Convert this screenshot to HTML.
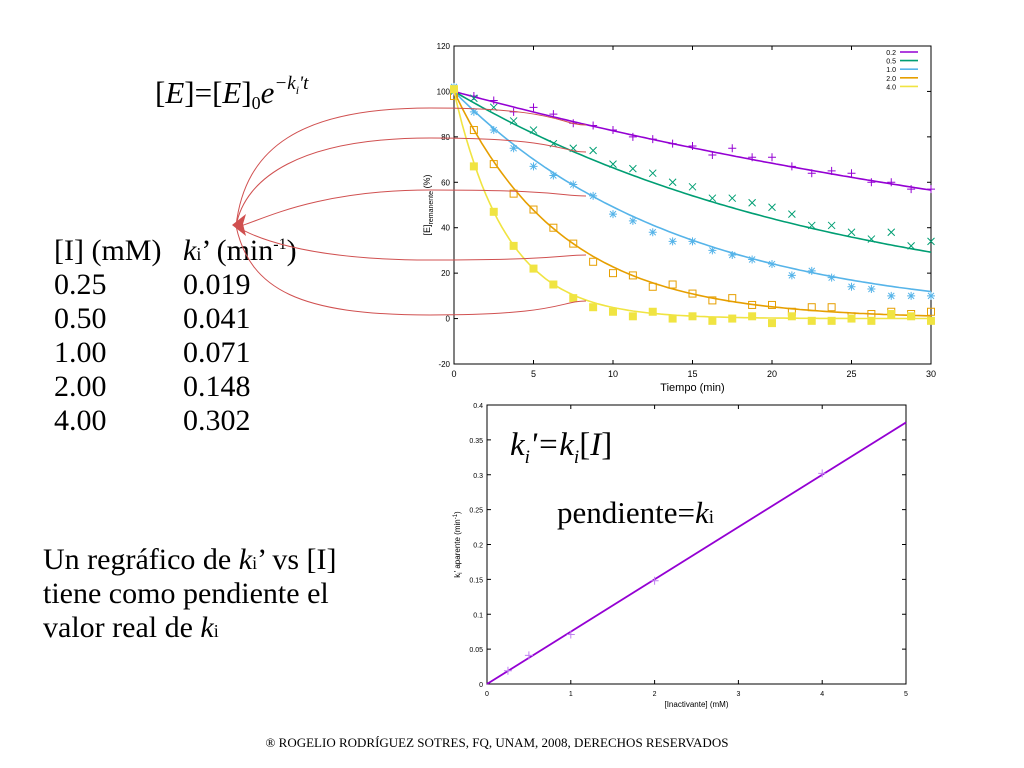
<!DOCTYPE html>
<html><head><meta charset="utf-8"><style>
body{margin:0;background:#fff;}
svg{display:block;font-family:"Liberation Sans",sans-serif;}
.serif{font-family:"Liberation Serif",serif;}
</style></head><body>
<svg width="1024" height="768" viewBox="0 0 1024 768">
<g class="serif" fill="#000">
<text x="155" y="103" font-size="31" font-style="italic"><tspan font-style="normal">[</tspan>E<tspan font-style="normal">]=[</tspan>E<tspan font-style="normal">]</tspan><tspan font-size="18" font-style="normal" dy="6">0</tspan><tspan dy="-6">e</tspan><tspan font-size="19" dy="-14">−k</tspan><tspan font-size="12" dy="5">i</tspan><tspan font-size="19" dy="-5">'t</tspan></text>
</g>
<g class="serif" font-size="30" fill="#000">
<text x="54" y="260">[I] (mM)</text><text x="183" y="260"><tspan font-style="italic">k</tspan><tspan font-size="18">i</tspan>’ (min<tspan font-size="16" dy="-11">-1</tspan><tspan dy="11">)</tspan></text>
<text x="54" y="294">0.25</text><text x="183" y="294">0.019</text>
<text x="54" y="328">0.50</text><text x="183" y="328">0.041</text>
<text x="54" y="362">1.00</text><text x="183" y="362">0.071</text>
<text x="54" y="396">2.00</text><text x="183" y="396">0.148</text>
<text x="54" y="430">4.00</text><text x="183" y="430">0.302</text>
</g>
<g class="serif" font-size="30" fill="#000">
<text x="43" y="569">Un regráfico de <tspan font-style="italic">k</tspan><tspan font-size="18">i</tspan>’ vs [I]</text>
<text x="43" y="603">tiene como pendiente el</text>
<text x="43" y="637">valor real de <tspan font-style="italic">k</tspan><tspan font-size="18">i</tspan></text>
</g>
<text class="serif" x="497" y="747" font-size="13" text-anchor="middle">® ROGELIO RODRÍGUEZ SOTRES, FQ, UNAM, 2008, DERECHOS RESERVADOS</text>
<g id="top"></g>
<g id="bot"></g>
<g id="arcs"></g>
</svg>
<script>
const times=[0,1.25,2.5,3.75,5,6.25,7.5,8.75,10,11.25,12.5,13.75,15,16.25,17.5,18.75,20,21.25,22.5,23.75,25,26.25,27.5,28.75,30];
const seriesNames=["0.2","0.5","1.0","2.0","4.0"];
const seriesK=[0.019,0.041,0.071,0.148,0.302];
const s02=[100,98,96,91,93,90,86,85,83,80,79,77,76,72,75,71,71,67,64,65,64,60,60,57,57];
const s05=[100,97,93,87,83,77,75,74,68,66,64,60,58,53,53,51,49,46,41,41,38,35,38,32,34];
const s10=[102,91,83,75,67,63,59,54,46,43,38,34,34,30,28,26,24,19,21,18,14,13,10,10,10];
const s20=[98,83,68,55,48,40,33,25,20,19,14,15,11,8,9,6,6,3,5,5,1,2,3,2,3];
const s40=[101,67,47,32,22,15,9,5,3,1,3,0,1,-1,0,1,-2,1,-1,-1,0,-1,2,1,-1];
const xTicks=[0,5,10,15,20,25,30];
const yTicks=[-20,0,20,40,60,80,100,120];
const conc=[0.25,0.5,1,2,4];
const kprime=[0.019,0.041,0.071,0.148,0.302];
const slope=0.075;
const bxTicks=[0,1,2,3,4,5];
const byTicks=[0,0.05,0.1,0.15,0.2,0.25,0.3,0.35,0.4];
const NS="http://www.w3.org/2000/svg";
function mk(p,t,a){const e=document.createElementNS(NS,t);for(const k in a)e.setAttribute(k,a[k]);p.appendChild(e);return e;}
const colors=["#9400d3","#009e73","#56b4e9","#e69f00","#f0e442"];
const T=document.getElementById('top');
const X=t=>454+t*(931-454)/30, Y=v=>364-(v+20)*(364-46)/140;
let fr=mk(T,'rect',{x:X(0),y:Y(120),width:X(30)-X(0),height:Y(-20)-Y(120),fill:'none',stroke:'#000','stroke-width':1});

xTicks.forEach(t=>{mk(T,'line',{x1:X(t),x2:X(t),y1:Y(-20),y2:Y(-20)-4,stroke:'#000'});mk(T,'line',{x1:X(t),x2:X(t),y1:Y(120),y2:Y(120)+4,stroke:'#000'});
 const l=mk(T,'text',{x:X(t),y:Y(-20)+13,'font-size':9,'text-anchor':'middle'});l.textContent=t;
 });
yTicks.forEach(v=>{mk(T,'line',{x1:X(0),x2:X(0)+4,y1:Y(v),y2:Y(v),stroke:'#000'});mk(T,'line',{x1:X(30),x2:X(30)-4,y1:Y(v),y2:Y(v),stroke:'#000'});
 const l=mk(T,'text',{x:X(0)-4,y:Y(v)+3,'font-size':8,'text-anchor':'end'});l.textContent=v;
 });
let xt=mk(T,'text',{x:(X(0)+X(30))/2,y:Y(-20)+27,'font-size':11,'text-anchor':'middle'});xt.textContent='Tiempo (min)';

let yt=mk(T,'text',{x:0,y:0,'font-size':9,'text-anchor':'middle',transform:`translate(430,${Y(50)}) rotate(-90)`});
yt.innerHTML='[E]<tspan font-size="7" dy="3">remanente</tspan><tspan dy="-3"> (%)</tspan>';

const allS=[s02,s05,s10,s20,s40];
allS.forEach((s,i)=>{
 const c=colors[i];let d='';
 for(let t=0;t<=30;t+=0.25){d+=(t?'L':'M')+X(t).toFixed(1)+','+Y(100*Math.exp(-seriesK[i]*t)).toFixed(1);}
 const p=mk(T,'path',{d:d,fill:'none',stroke:c,'stroke-width':1.6});
 
 s.forEach((v,j)=>{const x=X(times[j]),y=Y(v);let g=mk(T,'g',{stroke:c,fill:'none','stroke-width':1});
  
  if(i==0){mk(g,'path',{d:`M${x-4},${y}H${x+4}M${x},${y-4}V${y+4}`});}
  else if(i==1){mk(g,'path',{d:`M${x-3.5},${y-3.5}L${x+3.5},${y+3.5}M${x-3.5},${y+3.5}L${x+3.5},${y-3.5}`});}
  else if(i==2){mk(g,'path',{d:`M${x-4},${y}H${x+4}M${x},${y-4}V${y+4}M${x-3},${y-3}L${x+3},${y+3}M${x-3},${y+3}L${x+3},${y-3}`});}
  else if(i==3){mk(g,'rect',{x:x-3.5,y:y-3.5,width:7,height:7});}
  else {mk(g,'rect',{x:x-3.5,y:y-3.5,width:7,height:7,fill:c});}
 });
 const ly=52+i*8.6;
 const lt=mk(T,'text',{x:896,y:ly+3,'font-size':7,'text-anchor':'end'});lt.textContent=seriesNames[i];
 
 const ll=mk(T,'line',{x1:900,x2:918,y1:ly,y2:ly,stroke:c,'stroke-width':1.6});
 
});
const B=document.getElementById('bot');
const BX=v=>487+v*(906-487)/5, BY=v=>684-v*(684-405)/0.4;
let bf=mk(B,'rect',{x:BX(0),y:BY(0.4),width:BX(5)-BX(0),height:BY(0)-BY(0.4),fill:'none',stroke:'#000','stroke-width':1});

bxTicks.forEach(t=>{mk(B,'line',{x1:BX(t),x2:BX(t),y1:BY(0),y2:BY(0)-4,stroke:'#000'});mk(B,'line',{x1:BX(t),x2:BX(t),y1:BY(0.4),y2:BY(0.4)+4,stroke:'#000'});
 const l=mk(B,'text',{x:BX(t),y:BY(0)+12,'font-size':7,'text-anchor':'middle'});l.textContent=t;
 });
byTicks.forEach(v=>{mk(B,'line',{x1:BX(0),x2:BX(0)+4,y1:BY(v),y2:BY(v),stroke:'#000'});mk(B,'line',{x1:BX(5),x2:BX(5)-4,y1:BY(v),y2:BY(v),stroke:'#000'});
 const l=mk(B,'text',{x:BX(0)-4,y:BY(v)+3,'font-size':7,'text-anchor':'end'});l.textContent=+v.toFixed(2);
 });
let bxt=mk(B,'text',{x:(BX(0)+BX(5))/2,y:BY(0)+23,'font-size':8,'text-anchor':'middle'});bxt.textContent='[Inactivante] (mM)';

let byt=mk(B,'text',{x:0,y:0,'font-size':8,'text-anchor':'middle',transform:`translate(460,${BY(0.2)}) rotate(-90)`});
byt.innerHTML='k<tspan font-size="6" dy="2">i</tspan><tspan dy="-2">\' aparente (min</tspan><tspan font-size="6" dy="-3">-1</tspan><tspan dy="3">)</tspan>';

let fl=mk(B,'line',{x1:BX(0),y1:BY(0),x2:BX(5),y2:BY(slope*5),stroke:'#9400d3','stroke-width':1.8});

conc.forEach((c,j)=>{const x=BX(c),y=BY(kprime[j]);const p=mk(B,'path',{d:`M${x-4},${y}H${x+4}M${x},${y-4}V${y+4}`,stroke:'#c080f0','stroke-width':1});
 });
let eq=mk(B,'text',{x:510,y:455,'font-size':33,'font-style':'italic','font-family':'Liberation Serif,serif'});
eq.innerHTML='k<tspan font-size="19" dy="8">i</tspan><tspan dy="-8">\'=k</tspan><tspan font-size="19" dy="8">i</tspan><tspan dy="-8" font-style="normal">[</tspan>I<tspan font-style="normal">]</tspan>';

let pe=mk(B,'text',{x:557,y:523,'font-size':31,'font-family':'Liberation Serif,serif'});
pe.innerHTML='pendiente=<tspan font-style="italic">k</tspan><tspan font-size="19">i</tspan>';

const A=document.getElementById('arcs');
const ends=[[108,125],[138,152],[190,196],[260,255],[315,301]];
ends.forEach((e,i)=>{const up=e[0]<226;const c1=up?`245,${e[0]+40}`:`250,${e[0]-25}`;
 const a=mk(A,'path',{d:`M236,226 C${c1} 300,${e[0]} 430,${e[0]} S560,${e[1]} 586,${e[1]}`,fill:'none',stroke:'#d05050','stroke-width':1});
 });
let ah=mk(A,'path',{d:'M232,225 L246,214 L243,224 L246,236 Z',fill:'#d05050'});

</script>
</body></html>
